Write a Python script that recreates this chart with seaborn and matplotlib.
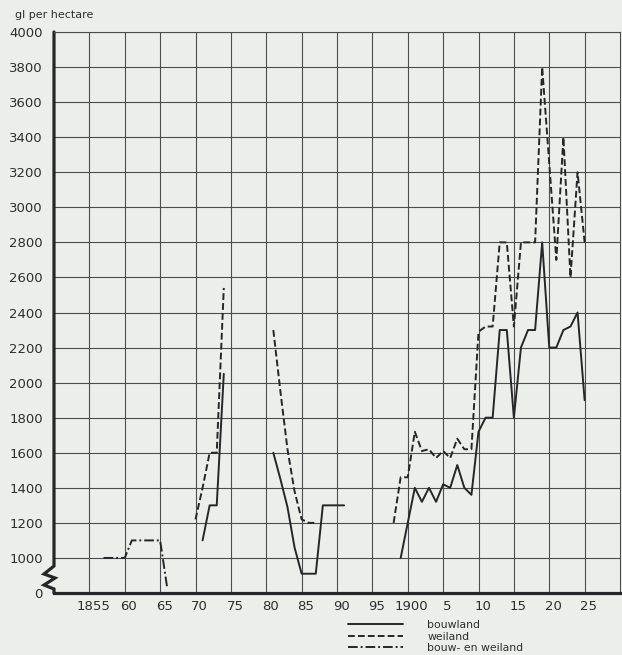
import seaborn as sns
import matplotlib.pyplot as plt
import matplotlib.transforms as mtransforms
from matplotlib.lines import Line2D

# bouwland (solid)
bouw_years_a = [1871, 1872, 1873, 1874]
bouw_vals_a = [1100, 1300, 1300, 2050]
bouw_years_b = [1881, 1882, 1883, 1884, 1885, 1887, 1888, 1891]
bouw_vals_b = [1600, 1450, 1290, 1060, 910, 910, 1300, 1300]
bouw_years_c = [1899, 1901, 1902, 1903, 1904, 1905, 1906, 1907, 1908, 1909, 1910,
                1911, 1912, 1913, 1914, 1915, 1916, 1917, 1918, 1919, 1920, 1921,
                1922, 1923, 1924, 1925]
bouw_vals_c = [1000, 1400, 1320, 1400, 1320, 1420, 1400, 1530, 1400, 1360, 1720,
               1800, 1800, 2300, 2300, 1800, 2200, 2300, 2300, 2800, 2200, 2200,
               2300, 2320, 2400, 1900]

# weiland (dashed)
wei_years_a = [1870, 1871, 1872, 1873, 1874]
wei_vals_a = [1220, 1400, 1600, 1600, 2540]
wei_years_b = [1881, 1882, 1883, 1884, 1885, 1886, 1887]
wei_vals_b = [2300, 1950, 1620, 1380, 1220, 1200, 1200]
wei_years_c = [1898, 1899, 1900, 1901, 1902, 1903, 1904, 1905, 1906, 1907, 1908,
               1909, 1910, 1911, 1912, 1913, 1914, 1915, 1916, 1917, 1918, 1919,
               1921, 1922, 1923, 1924, 1925]
wei_vals_c = [1200, 1460, 1460, 1720, 1610, 1620, 1570, 1610, 1570, 1680, 1620,
              1620, 2290, 2320, 2320, 2800, 2800, 2320, 2800, 2800, 2800, 3800,
              2700, 3400, 2600, 3200, 2800]

# bouw- en weiland (dash-dot)
mixed_years = [1857, 1860, 1861, 1865, 1866]
mixed_vals = [1000, 1000, 1100, 1100, 830]

legend_labels = ["bouwland", "weiland", "bouw- en weiland"]
x_ticks = list(range(1855, 1926, 5))
x_ticklabels = ["1855", "60", "65", "70", "75", "80", "85", "90", "95",
                "1900", "5", "10", "15", "20", "25"]
y_ticks = [800] + list(range(1000, 4001, 200))
y_ticklabels = ["0"] + [str(v) for v in range(1000, 4001, 200)]

bg = "#eceeea"
ink = "#262626"
grid_col = "#4d4d4d"

sns.set_theme(style="whitegrid", rc={"axes.facecolor": bg, "figure.facecolor": bg})
plt.rcParams["font.family"] = ["DejaVu Sans"]

fig = plt.figure(figsize=(6.22, 6.55), dpi=100)
ax = fig.add_axes([54 / 622, 62 / 655, 566 / 622, 561 / 655])

styles = {
    "solid": "-",
    "dashed": (0, (3.5, 1.6)),
    "dashdot": (0, (5, 1.5, 1, 1.5)),
}

series = [
    ("solid", [(bouw_years_a, bouw_vals_a), (bouw_years_b, bouw_vals_b), (bouw_years_c, bouw_vals_c)]),
    ("dashed", [(wei_years_a, wei_vals_a), (wei_years_b, wei_vals_b), (wei_years_c, wei_vals_c)]),
    ("dashdot", [(mixed_years, mixed_vals)]),
]

handles = []
for style, segments in series:
    for i, (xs, ys) in enumerate(segments):
        sns.lineplot(x=xs, y=ys, ax=ax, color=ink, linewidth=1.4,
                     linestyle=styles[style], legend=False)
        if i == 0:
            handles.append(ax.lines[-1])

ax.set_xlim(1850, 1930)
ax.set_ylim(800, 4000)
ax.set_xticks(x_ticks)
ax.set_xticklabels(x_ticklabels)
ax.set_yticks(y_ticks)
ax.set_yticklabels(y_ticklabels)
ax.set_xlabel("")
ax.set_ylabel("")
ax.grid(True, color=grid_col, linewidth=0.8)
ax.tick_params(axis="both", length=0, labelsize=9.5, labelcolor="#2e2e2e")
ax.tick_params(axis="y", pad=8)
ax.tick_params(axis="x", pad=5)

# shift x labels a bit to the right like the print
shift = mtransforms.ScaledTranslation(4 / 100, 0, fig.dpi_scale_trans)
for lbl in ax.get_xticklabels():
    lbl.set_transform(lbl.get_transform() + shift)

for side in ["top", "right"]:
    ax.spines[side].set_color(grid_col)
    ax.spines[side].set_linewidth(0.8)
ax.spines["bottom"].set_color(ink)
ax.spines["bottom"].set_linewidth(2.3)
ax.spines["left"].set_visible(False)

# left axis with a break between 0 and 1000
def px_to_val(py):
    return 800 + (593 - py) / 561 * 3200

brk = [(0, 32), (0, 566), (-10, 574), (1, 578), (-10, 585), (0, 589), (0, 593)]
bx = [p[0] / 566 for p in brk]
by = [px_to_val(p[1]) for p in brk]
ax.add_line(Line2D(bx, by, transform=ax.get_yaxis_transform(), color=ink,
                   linewidth=2.3, clip_on=False, solid_joinstyle="miter"))

fig.text(15 / 622, 1 - 15 / 655, "gl per hectare", ha="left", va="center",
         fontsize=8, color="#2e2e2e")

fig.legend(handles, legend_labels, loc="upper left",
           bbox_to_anchor=(348 / 622, 1 - 620 / 655), frameon=False,
           fontsize=7.8, handlelength=5.1, handletextpad=2.2,
           labelspacing=0.15, borderpad=0, borderaxespad=0,
           labelcolor="#2e2e2e")

fig.savefig("out.png", dpi=100, facecolor=bg)
